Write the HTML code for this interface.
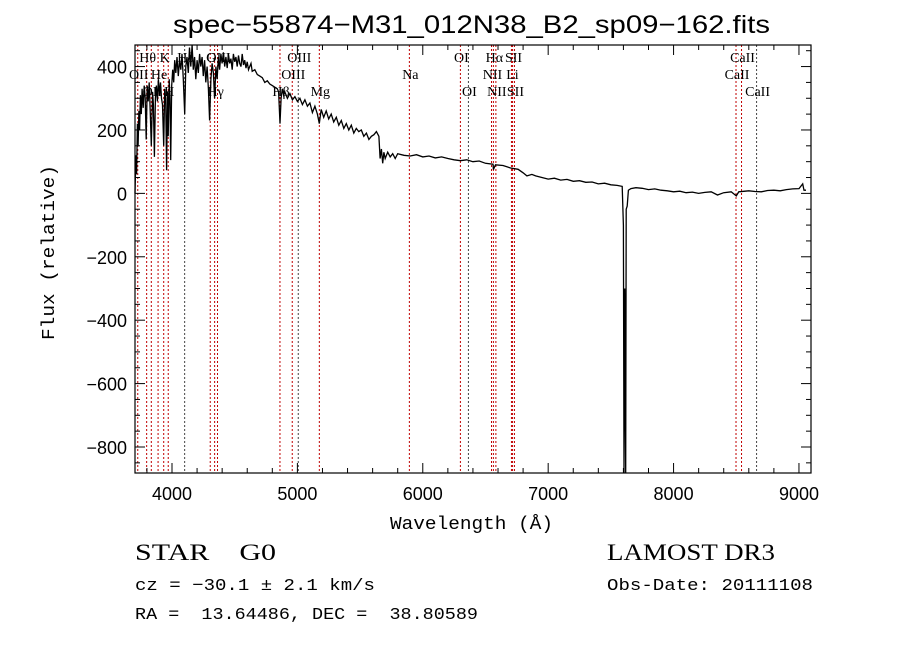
<!DOCTYPE html>
<html><head><meta charset="utf-8"><style>
body{margin:0;background:#fff;}
svg{display:block;}
text{font-family:"Liberation Serif",serif;fill:#000;white-space:pre;}
.mono{font-family:"Liberation Mono",monospace;}
.sans{font-family:"Liberation Sans",sans-serif;}
</style></head><body>
<svg id="chart" width="900" height="649" viewBox="0 0 900 649" xmlns="http://www.w3.org/2000/svg" xml:space="preserve">
<rect width="900" height="649" fill="#fff"/>
<text class="sans" x="173" y="33" font-size="25" textLength="597" lengthAdjust="spacingAndGlyphs">spec−55874−M31_012N38_B2_sp09−162.fits</text>
<g id="lines"></g>
<g id="labels"></g>
<path id="spec" fill="none" stroke="#000" stroke-width="1.3"/>
<rect x="135" y="45" width="676" height="428" fill="none" stroke="#000" stroke-width="1.2"/>
<g id="ticks"></g>
<text class="mono" x="390" y="529" font-size="18" textLength="163" lengthAdjust="spacingAndGlyphs">Wavelength (Å)</text>
<text class="mono" transform="translate(54,340) rotate(-90)" font-size="18" textLength="175" lengthAdjust="spacingAndGlyphs">Flux (relative)</text>
<text x="135" y="560" font-size="23" textLength="141" lengthAdjust="spacingAndGlyphs">STAR    G0</text>
<text x="607" y="560" font-size="23" textLength="168" lengthAdjust="spacingAndGlyphs">LAMOST DR3</text>
<text class="mono" x="135" y="590" font-size="17" textLength="240" lengthAdjust="spacingAndGlyphs">cz = −30.1 ± 2.1 km/s</text>
<text class="mono" x="607" y="590" font-size="17" textLength="206" lengthAdjust="spacingAndGlyphs">Obs-Date: 20111108</text>
<text class="mono" x="135" y="619" font-size="17" textLength="343" lengthAdjust="spacingAndGlyphs">RA =  13.64486, DEC =  38.80589</text>
</svg>
<script>
const wl=[3705,3712,3718,3724,3730,3736,3742,3748,3755,3762,3770,3778,3786,3794,3802,3810,3818,3826,3835,3845,3852,3860,3868,3876,3884,3892,3900,3908,3916,3924,3934,3942,3950,3957,3964,3970,3978,3984,3990,3998,4006,4014,4022,4030,4040,4050,4060,4070,4080,4090,4101,4110,4120,4130,4140,4150,4160,4170,4180,4190,4200,4210,4220,4230,4240,4250,4260,4270,4280,4290,4300,4310,4320,4330,4340,4350,4360,4370,4380,4390,4400,4410,4420,4430,4440,4450,4460,4470,4480,4490,4500,4510,4520,4530,4540,4550,4560,4570,4580,4590,4600,4610,4620,4630,4640,4660,4680,4700,4720,4740,4760,4780,4800,4820,4840,4850,4861,4870,4880,4890,4900,4920,4940,4960,4980,5000,5020,5040,5060,5080,5100,5120,5140,5160,5175,5190,5210,5230,5250,5270,5290,5310,5330,5350,5370,5390,5410,5430,5450,5470,5490,5510,5530,5550,5570,5590,5610,5630,5650,5660,5670,5680,5690,5700,5720,5740,5760,5780,5800,5850,5900,5950,6000,6050,6100,6150,6200,6250,6300,6350,6400,6450,6500,6560,6563,6580,6640,6700,6760,6800,6830,6870,6900,6950,7000,7050,7100,7150,7200,7250,7300,7350,7400,7450,7500,7550,7590,7600,7605,7610,7618,7622,7630,7640,7660,7700,7750,7800,7850,7900,7950,8000,8050,8100,8150,8200,8250,8300,8350,8400,8460,8500,8520,8600,8650,8700,8750,8800,8850,8900,8950,9000,9030,9040,9056];
const flux=[0,120,60,220,150,260,200,310,250,330,270,340,300,170,340,290,350,260,150,320,280,115,300,340,290,360,310,350,300,280,150,330,300,73,320,180,360,300,105,340,390,350,420,380,430,370,420,390,440,360,250,400,430,380,460,400,470,390,430,360,420,380,440,400,430,370,420,350,400,330,230,360,410,380,300,400,360,430,390,440,410,445,400,430,395,440,410,425,390,440,415,430,400,435,410,400,440,405,420,395,415,390,400,410,385,390,375,370,365,350,355,345,340,335,330,320,220,300,330,310,320,300,315,295,305,290,300,280,295,275,285,255,275,250,220,265,240,260,235,250,225,240,215,230,205,220,200,215,190,205,195,200,180,190,170,180,185,195,180,110,140,95,130,110,130,115,125,110,125,120,118,122,115,118,112,115,110,106,103,106,100,102,95,92,75,90,88,80,76,65,55,60,55,50,45,48,42,44,38,40,35,36,30,32,27,25,22,-100,-882,-300,-882,-50,-40,10,15,18,16,12,14,10,8,5,7,2,4,0,3,5,-5,2,5,-8,5,8,6,5,9,10,8,12,14,15,30,10,10];
const lineWl=[3727,3798,3835,3889,3934,3970,4101,4305,4340,4363,4861,4959,5007,5175,5893,6300,6364,6548,6563,6583,6707,6716,6731,8498,8542,8662];
const lineName=["OII","Hθ","OII","He","K","H","Hδ","G","Hγ","OIII","Hβ","OIII","OIII","Mg","Na","OI","OI","NII","Hα","NII","Li","SII","SII","CaII","CaII","CaII"];
const lineRow=[1,0,2,1,0,2,0,0,2,0,2,1,0,2,1,0,2,1,0,2,1,0,2,1,0,2];
const darkLines=[4101,5007,6364,8662];
const xTicks=[4000,5000,6000,7000,8000,9000];
const yTicks=[400,200,0,-200,-400,-600,-800];
const X0=135,X1=811,Y0=45,Y1=473,WMIN=3705,WMAX=9096,FMIN=-882,FMAX=468;
const sx=w=>X0+(w-WMIN)/(WMAX-WMIN)*(X1-X0);
const sy=f=>Y1-(f-FMIN)/(FMAX-FMIN)*(Y1-Y0);
const NS="http://www.w3.org/2000/svg";
function mk(tag,attrs,parent){const e=document.createElementNS(NS,tag);for(const k in attrs)e.setAttribute(k,attrs[k]);parent.appendChild(e);return e;}
let d="";
for(let i=0;i<wl.length;i++){d+=(i?"L":"M")+sx(wl[i]).toFixed(1)+","+sy(Math.max(FMIN,Math.min(FMAX,flux[i]))).toFixed(1);}
document.getElementById('spec').setAttribute('d',d);
const lg=document.getElementById('lines'),lb=document.getElementById('labels');
for(let i=0;i<lineWl.length;i++){
  const x=sx(lineWl[i]);
  const l=mk('line',{x1:x,x2:x,y1:Y0,y2:Y1,stroke:darkLines.includes(lineWl[i])?'#444':'#c00000','stroke-width':1,'stroke-dasharray':'2,2'},lg);
  
  
  const t=mk('text',{x:x+1,y:62+lineRow[i]*17,'font-size':14,'text-anchor':'middle'},lb);
  t.textContent=lineName[i];
  
  
}
const tg=document.getElementById('ticks');
for(let w=3800;w<=9000;w+=200){const x=sx(w);const big=w%1000===0;
  mk('line',{x1:x,x2:x,y1:Y1,y2:Y1-(big?10:5),stroke:'#000'},tg);
  mk('line',{x1:x,x2:x,y1:Y0,y2:Y0+(big?10:5),stroke:'#000'},tg);}
for(const w of xTicks){const t=mk('text',{x:sx(w),y:500,'font-size':18,'text-anchor':'middle',class:'sans'},tg);t.textContent=w;
  
  }
for(let f=-850;f<=450;f+=50){const y=sy(f);const big=f%200===0;
  mk('line',{x1:X0,x2:X0+(big?10:5),y1:y,y2:y,stroke:'#000'},tg);
  mk('line',{x1:X1,x2:X1-(big?10:5),y1:y,y2:y,stroke:'#000'},tg);}
for(const f of yTicks){const t=mk('text',{x:127,y:sy(f)+7,'font-size':18,'text-anchor':'end',class:'sans'},tg);t.textContent=f<0?'−'+(-f):f;
  
  }
</script>
</body></html>
